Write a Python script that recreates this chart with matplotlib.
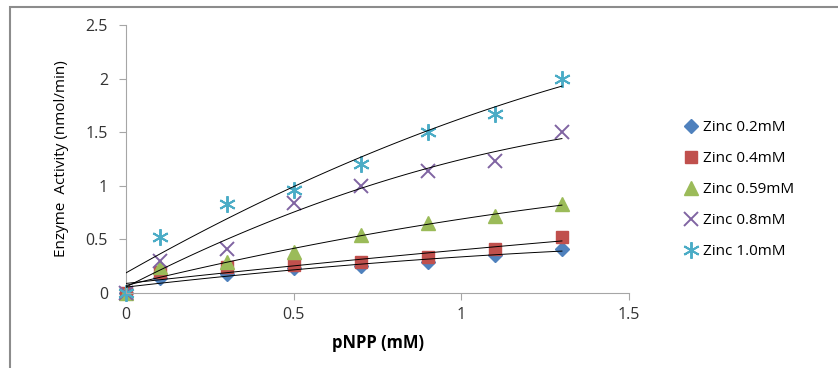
import numpy as np
import matplotlib.pyplot as plt
from matplotlib.patches import Rectangle

# substrate concentrations (mM)
pnpp = [0, 0.1, 0.3, 0.5, 0.7, 0.9, 1.1, 1.3]

# enzyme activity (nmol/min) for each zinc concentration
zinc_02 = [0, 0.14, 0.18, 0.23, 0.25, 0.29, 0.35, 0.41]
zinc_04 = [0, 0.20, 0.24, 0.26, 0.29, 0.34, 0.41, 0.52]
zinc_059 = [0, 0.24, 0.29, 0.38, 0.54, 0.65, 0.72, 0.83]
zinc_08 = [0, 0.30, 0.41, 0.84, 1.00, 1.14, 1.23, 1.50]
zinc_10 = [0, 0.52, 0.83, 0.96, 1.20, 1.50, 1.67, 2.00]

labels = ['Zinc 0.2mM', 'Zinc 0.4mM', 'Zinc 0.59mM', 'Zinc 0.8mM', 'Zinc 1.0mM']
series = [zinc_02, zinc_04, zinc_059, zinc_08, zinc_10]
colors = ['#4F81BD', '#C0504D', '#9BBB59', '#8064A2', '#4BACC6']
markers = ['D', 's', '^', 'x', (6, 2, 0)]
sizes = [7, 9, 10, 10, 12]

plt.rcParams['font.family'] = ['Open Sans', 'DejaVu Sans']

fig = plt.figure(figsize=(8.38, 3.68), dpi=100)
ax = fig.add_axes([126 / 838, 1 - 293 / 368, 503 / 838, 268 / 368])

# chart frame
fig.patches.append(Rectangle((10 / 838, -0.1), 1.0, 1 - 7 / 368 + 0.1,
                             transform=fig.transFigure, fill=False,
                             edgecolor='#8c8c8c', lw=1.5))

x = np.array(pnpp)
xs = np.linspace(0, 1.3, 100)
for y, lab, c, m, s in zip(series, labels, colors, markers, sizes):
    # second-order polynomial trendline
    coef = np.polyfit(x, y, 2)
    ax.plot(xs, np.polyval(coef, xs), color='black', lw=0.7, zorder=3)
    if m in ('x', (6, 2, 0)):
        ax.plot(x, y, linestyle='none', marker=m, markersize=s, color=c,
                markeredgewidth=1.4, label=lab, clip_on=False, zorder=2)
    else:
        ax.plot(x, y, linestyle='none', marker=m, markersize=s, color=c,
                markeredgecolor=c, label=lab, clip_on=False, zorder=2)

ax.set_xlim(0, 1.5)
ax.set_ylim(0, 2.5)
ax.set_xticks([0, 0.5, 1, 1.5])
ax.set_xticklabels(['0', '0.5', '1', '1.5'])
ax.set_yticks([0, 0.5, 1, 1.5, 2, 2.5])
ax.set_yticklabels(['0', '0.5', '1', '1.5', '2', '2.5'])
for side in ('top', 'right'):
    ax.spines[side].set_visible(False)
for side in ('left', 'bottom'):
    ax.spines[side].set_color('#a6a6a6')
ax.tick_params(colors='#a6a6a6', labelcolor='#333333', labelsize=11.5,
               length=5, direction='out')
ax.tick_params(axis='x', pad=5)
ax.tick_params(axis='y', pad=8)

ax.set_xlabel('pNPP (mM)', fontsize=12, fontweight='bold', labelpad=8)
ax.set_ylabel('Enzyme  Activity (nmol/min)', fontsize=11, labelpad=12)

ax.legend(loc='center left', bbox_to_anchor=(1.08, 0.385), frameon=False,
          fontsize=11, handlelength=1.0, handletextpad=0.3,
          labelspacing=1.05)

fig.savefig('out.png', dpi=100)
